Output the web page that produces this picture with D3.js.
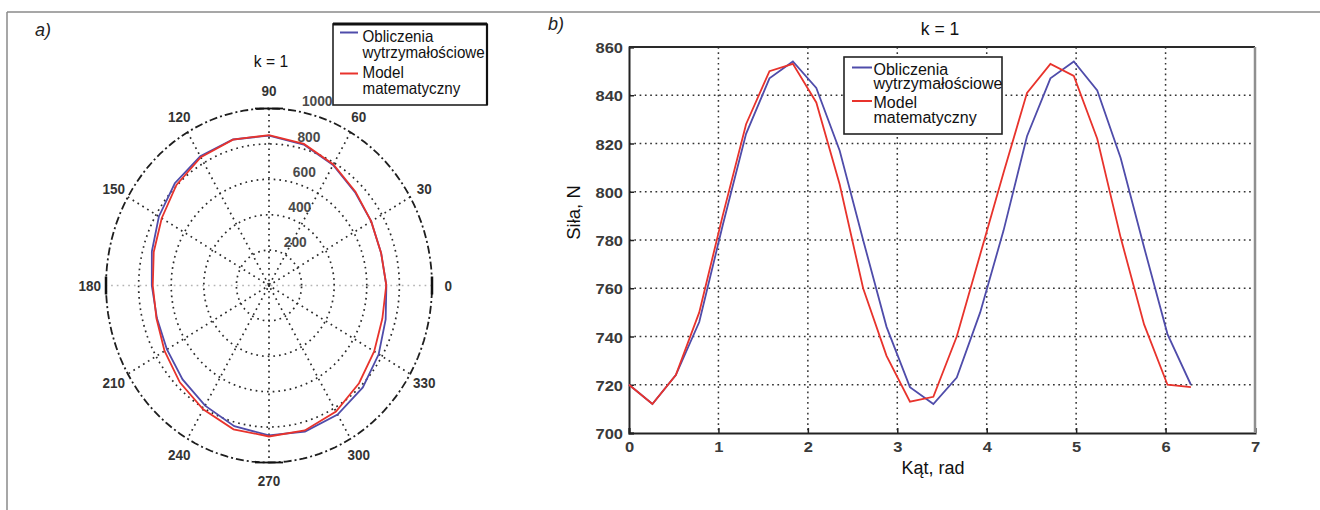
<!DOCTYPE html>
<html><head><meta charset="utf-8">
<script src="https://cdn.jsdelivr.net/npm/d3@7"></script>
<style>
body{margin:0;background:#fff;}
svg{display:block;font-family:"Liberation Sans",Arial,sans-serif;}
</style></head>
<body>
<svg id="chart" width="1320" height="510"></svg>
<script>
// ---- data ----
const anglesDeg = [0,15,30,45,60,75,90,105,120,135,150,165,180,195,210,225,240,255,270,285,300,315,330,345,360];
const sObliczenia = [720,712,724,746,786,824,847,854,843,817,780,744,719,712,723,750,784,823,847,854,842,814,777,741,720];
const sModel      = [720,712,724,750,790,828,850,853,837,803,760,732,713,715,740,774,808,841,853,848,822,781,745,720,719];
const seriesNames = ["Obliczenia wytrzymałościowe","Model matematyczny"];
const legendLines = [["Obliczenia","wytrzymałościowe"],["Model","matematyczny"]];
const seriesColors = ["#4f4caa","#e8332c"];
const xTicks = [0,1,2,3,4,5,6,7];
const yTicks = [700,720,740,760,780,800,820,840,860];
const radialTicks = [200,400,600,800,1000];
const angleTicks = [0,30,60,90,120,150,180,210,240,270,300,330];
const titleText = "k = 1";
const xLabel = "Kąt, rad";
const yLabel = "Siła, N";

const svg = d3.select("#chart");
const series = [sObliczenia, sModel];

// text helper: horizontal squish sx
function txt(g, x, y, s, o){
  o = o||{};
  return g.append("text")
    .attr("transform",`translate(${x},${y}) scale(${o.sx||1},1)`+(o.rot?` rotate(${o.rot})`:""))
    .attr("text-anchor",o.anchor||"start")
    .attr("font-size",o.size||15)
    .attr("font-weight",o.bold?"bold":null)
    .attr("font-style",o.italic?"italic":null)
    .attr("fill",o.fill||"#111")
    .text(s);
}

// outer frame
svg.append("line").attr("x1",7).attr("x2",1320).attr("y1",12).attr("y2",12).attr("stroke","#8a8a8a").attr("stroke-width",1.5);
svg.append("line").attr("x1",7).attr("x2",7).attr("y1",12).attr("y2",510).attr("stroke","#8a8a8a").attr("stroke-width",1.5);
txt(svg,35,36,"a)",{size:18,italic:true,fill:"#222"});
txt(svg,548,30,"b)",{size:18,italic:true,fill:"#222"});

// ---- polar plot ----
const SX = 0.92;
const cx = 269, cy = 285.5, rx = 163, ry = 177, rMax = 1000;
const px = d3.scaleLinear().domain([-rMax,rMax]).range([cx-rx,cx+rx]);
const py = d3.scaleLinear().domain([-rMax,rMax]).range([cy+ry,cy-ry]);
const rad = d => d*Math.PI/180;
const circ = r => d3.range(0,361,3).map(a=>[px(r*Math.cos(rad(a))),py(r*Math.sin(rad(a)))]);
const lineP = d3.line();
const gP = svg.append("g");
// spokes
[0,30,60,90,120,150].forEach(a=>{
  gP.append("line")
    .attr("x1",px(rMax*Math.cos(rad(a)))).attr("y1",py(rMax*Math.sin(rad(a))))
    .attr("x2",px(-rMax*Math.cos(rad(a)))).attr("y2",py(-rMax*Math.sin(rad(a))))
    .attr("stroke",a===0?"#b4b4b4":"#2a2a2a").attr("stroke-width",1.7)
    .attr("stroke-dasharray","1.7,4");
});
// rings
radialTicks.forEach(r=>{
  const outer = r===rMax;
  gP.append("path").attr("d",lineP(circ(r))).attr("fill","none")
    .attr("stroke",outer?"#1e1e1e":"#2a2a2a").attr("stroke-width",outer?1.8:1.7)
    .attr("stroke-dasharray",outer?"8,3,2,3":"1.7,4");
});
// solid marks at axis ends
[[0,true],[180,true],[90,false],[270,false]].forEach(([a,v])=>{
  const x = px(rMax*Math.cos(rad(a))), y = py(rMax*Math.sin(rad(a)));
  if(v) gP.append("line").attr("x1",x).attr("x2",x).attr("y1",y-9).attr("y2",y+9).attr("stroke","#111").attr("stroke-width",2.5);
  else gP.append("line").attr("x1",x-14).attr("x2",x+14).attr("y1",y).attr("y2",y).attr("stroke","#111").attr("stroke-width",1.8);
});
// curves
series.forEach((s,i)=>{
  const pts = s.map((v,k)=>[px(v*Math.cos(rad(anglesDeg[k]))),py(v*Math.sin(rad(anglesDeg[k])))]);
  gP.append("path").attr("d",lineP(pts)).attr("fill","none")
    .attr("stroke",seriesColors[i]).attr("stroke-width",1.8);
});
// radial labels
radialTicks.forEach(r=>{
  const a = rad(82);
  txt(gP, px((r+10)*Math.cos(a))+10, py((r+10)*Math.sin(a))-2, r, {size:14.5,bold:true,sx:0.95,fill:"#4a4a4a"});
});
// angle labels
angleTicks.forEach(a=>{
  txt(gP, px(1100*Math.cos(rad(a))), py(1100*Math.sin(rad(a)))+5.5, a, {size:15,bold:true,sx:0.9,anchor:"middle",fill:"#333"});
});
txt(svg,271,66.5,titleText,{size:17,sx:SX,anchor:"middle"});

// legend
function legend(x,y,w,h,lineY,baseY,lineGap,x1,x2,tx,sx,size,thickTop){
  const g = svg.append("g");
  g.append("rect").attr("x",x).attr("y",y).attr("width",w).attr("height",h)
    .attr("fill","#fff").attr("stroke","#222").attr("stroke-width",1.6);
  if(thickTop){
    g.append("line").attr("x1",x).attr("x2",x+w).attr("y1",y).attr("y2",y).attr("stroke","#111").attr("stroke-width",3);
    g.append("line").attr("x1",x+w).attr("x2",x+w).attr("y1",y).attr("y2",y+h).attr("stroke","#111").attr("stroke-width",2.2);
  }
  legendLines.forEach((ls,i)=>{
    g.append("line").attr("x1",x1).attr("x2",x2).attr("y1",lineY[i]).attr("y2",lineY[i])
      .attr("stroke",seriesColors[i]).attr("stroke-width",2);
    ls.forEach((t,j)=>txt(g,tx,baseY[i]+j*lineGap,t,{size:size,sx:sx}));
  });
}
legend(333,24,154,81,[32.5,73.5],[41.5,78],16,340,358,362.5,SX,16.5,true);

// ---- cartesian plot ----
const x = d3.scaleLinear().domain([0,7]).range([629,1255]);
const y = d3.scaleLinear().domain([700,860]).range([433,47]);
const gC = svg.append("g");
// grid
xTicks.slice(1,-1).forEach(t=>{
  gC.append("line").attr("x1",x(t)).attr("x2",x(t)).attr("y1",y(860)).attr("y2",y(700))
    .attr("stroke","#333").attr("stroke-width",1.5).attr("stroke-dasharray","1.7,3.6");
});
yTicks.slice(1,-1).forEach(t=>{
  gC.append("line").attr("x1",x(0)).attr("x2",x(7)).attr("y1",y(t)).attr("y2",y(t))
    .attr("stroke","#333").attr("stroke-width",1.5).attr("stroke-dasharray","1.7,3.6");
});
// axes
const xAxis = d3.axisBottom(x).tickValues(xTicks).tickSize(-5).tickFormat(d3.format("d"));
const yAxis = d3.axisLeft(y).tickValues(yTicks).tickSize(-5).tickFormat(d3.format("d"));
const gx = gC.append("g").attr("transform","translate(0,433)").call(xAxis);
const gy = gC.append("g").attr("transform","translate(629,0)").call(yAxis);
[gx,gy].forEach(g=>{
  g.select(".domain").attr("stroke","#222").attr("stroke-width",2);
  g.selectAll(".tick line").attr("stroke","#222").attr("stroke-width",1.5);
  g.selectAll(".tick text").remove();
});
gx.selectAll(".tick").each(function(d){ txt(d3.select(this),0,19,d,{size:15,bold:true,sx:1.1,anchor:"middle",fill:"#3a3a3a"}); });
gy.selectAll(".tick").each(function(d){ txt(d3.select(this),-6,5.5,d,{size:15,bold:true,sx:1.1,anchor:"end",fill:"#3a3a3a"}); });
// top & right border
gC.append("line").attr("x1",x(0)).attr("x2",x(7)).attr("y1",y(860)).attr("y2",y(860)).attr("stroke","#2a2a2a").attr("stroke-width",2);
gC.append("line").attr("x1",x(7)).attr("x2",x(7)).attr("y1",y(860)).attr("y2",y(700)).attr("stroke","#8f8f8f").attr("stroke-width",2.5);
// curves
const lineC = d3.line().x((d,k)=>x(rad(anglesDeg[k]))).y(d=>y(d));
series.forEach((s,i)=>{
  gC.append("path").attr("d",lineC(s)).attr("fill","none")
    .attr("stroke",seriesColors[i]).attr("stroke-width",1.8);
});
txt(svg,940,34.5,titleText,{size:17.5,anchor:"middle"});
txt(svg,933,474,xLabel,{size:18,anchor:"middle"});
svg.append("text").attr("transform","translate(580,212.5) rotate(-90)").attr("text-anchor","middle")
  .attr("font-size",18.5).attr("fill","#111").text(yLabel);
legend(844,57,158,77,[67.5,101],[74.5,108],14.5,852,872,873.5,1,16,false);
</script>
</body></html>
